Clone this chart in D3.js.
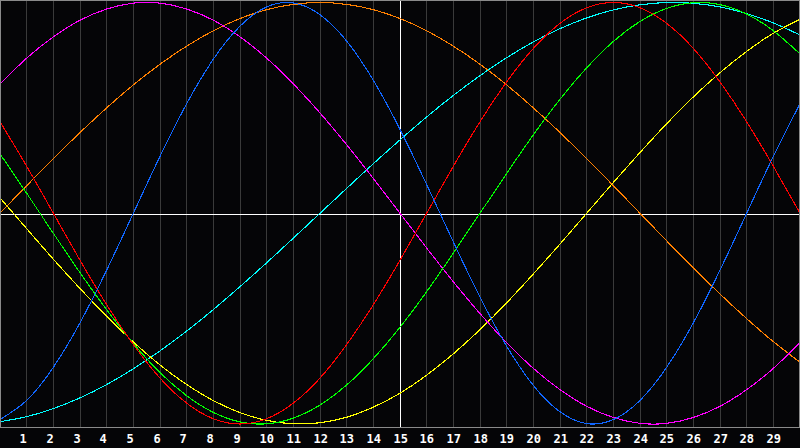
<!DOCTYPE html>
<html>
<head>
<meta charset="utf-8">
<script src="https://cdn.jsdelivr.net/npm/d3@7"></script>
<style>
  html, body { margin: 0; padding: 0; background: #050507; overflow: hidden; }
  svg { display: block; }
</style>
</head>
<body>
<svg id="chart" width="800" height="448"></svg>
<script>
// Days shown along the bottom axis (0..30 are sampled, 1..29 labelled)
const days = d3.range(0, 31);
const dayLabels = ["1","2","3","4","5","6","7","8","9","10","11","12","13","14","15",
  "16","17","18","19","20","21","22","23","24","25","26","27","28","29"];

// Series values (range -1 .. 1), one value per day 0..30
const redValues = [0.434,0.223,0,-0.223,-0.434,-0.623,-0.782,-0.901,-0.975,-1,-0.975,-0.901,-0.782,-0.623,-0.434,-0.223,0,0.223,0.434,0.623,0.782,0.901,0.975,1,0.975,0.901,0.782,0.623,0.434,0.223,0];
const greenValues = [0.282,0.095,-0.095,-0.282,-0.458,-0.618,-0.756,-0.866,-0.945,-0.990,-0.999,-0.972,-0.910,-0.815,-0.690,-0.541,-0.372,-0.189,0,0.189,0.372,0.541,0.690,0.815,0.910,0.972,0.999,0.990,0.945,0.866,0.756];
const blueValues = [-0.979,-0.888,-0.731,-0.520,-0.270,0,0.270,0.520,0.731,0.888,0.979,0.998,0.942,0.817,0.631,0.398,0.136,-0.136,-0.398,-0.631,-0.817,-0.942,-0.998,-0.979,-0.888,-0.731,-0.520,-0.270,0,0.270,0.520];
const yellowValues = [0.073,-0.073,-0.218,-0.357,-0.489,-0.611,-0.720,-0.813,-0.889,-0.946,-0.983,-0.999,-0.994,-0.968,-0.920,-0.854,-0.768,-0.667,-0.552,-0.425,-0.288,-0.146,0,0.146,0.288,0.425,0.552,0.667,0.768,0.854,0.920];
const cyanValues = [-0.989,-0.965,-0.927,-0.876,-0.813,-0.738,-0.653,-0.559,-0.457,-0.348,-0.235,-0.118,0,0.118,0.235,0.348,0.457,0.559,0.653,0.738,0.813,0.876,0.927,0.965,0.989,1.000,0.996,0.979,0.947,0.903,0.846];
const magentaValues = [0.614,0.736,0.837,0.916,0.969,0.997,0.997,0.969,0.916,0.837,0.736,0.614,0.476,0.325,0.165,0,-0.165,-0.325,-0.476,-0.614,-0.736,-0.837,-0.916,-0.969,-0.997,-0.997,-0.969,-0.916,-0.837,-0.736,-0.614];
const orangeValues = [0,0.131,0.259,0.383,0.5,0.609,0.707,0.793,0.866,0.924,0.966,0.991,1,0.991,0.966,0.924,0.866,0.793,0.707,0.609,0.5,0.383,0.259,0.131,0,-0.131,-0.259,-0.383,-0.5,-0.609,-0.707];

const seriesNames = ["orange","cyan","yellow","magenta","green","red","blue"];
const seriesValues = [orangeValues, cyanValues, yellowValues, magentaValues, greenValues, redValues, blueValues];
const seriesColors = ["#ff8000","#00ffff","#ffff00","#ff00ff","#00ff00","#ff0000","#1066ff"];

const W = 800, H = 448, plotBottom = 428;
const svg = d3.select("#chart");

const x = d3.scaleLinear().domain([0, 30]).range([0, W]);
const y = d3.scaleLinear().domain([-1, 1]).range([424, 2.5]);

// background
svg.append("rect").attr("x", 0).attr("y", 0).attr("width", W).attr("height", H).attr("fill", "#050507");

// vertical day grid
const gridDays = d3.range(1, 30);
svg.append("g").selectAll("line").data(gridDays).join("line")
  .attr("x1", d => Math.floor(x(d)) + 0.5).attr("x2", d => Math.floor(x(d)) + 0.5)
  .attr("y1", 0).attr("y2", plotBottom)
  .attr("stroke", d => d === 15 ? "#ffffff" : "#3a3a3a")
  .attr("stroke-width", 1)
  .attr("shape-rendering", "crispEdges");

// horizontal zero line
const y0 = Math.ceil(y(0)) + 0.5;
svg.append("line").attr("x1", 0).attr("x2", W).attr("y1", y0).attr("y2", y0)
  .attr("stroke", "#ffffff").attr("stroke-width", 1).attr("shape-rendering", "crispEdges");

// curves
const line = d3.line().x((d, i) => x(days[i])).y(d => y(d)).curve(d3.curveNatural);
svg.append("clipPath").attr("id", "plotclip").append("rect")
  .attr("x", 0).attr("y", 0).attr("width", W).attr("height", plotBottom);
const curves = svg.append("g").attr("clip-path", "url(#plotclip)");
seriesValues.forEach((vals, k) => {
  curves.append("path").datum(vals)
    .attr("d", line)
    .attr("fill", "none")
    .attr("stroke", seriesColors[k])
    .attr("stroke-width", 1.1)
    .attr("shape-rendering", "crispEdges");
});

// border
svg.append("rect").attr("x", 0.5).attr("y", 0.5).attr("width", W - 1).attr("height", plotBottom - 1)
  .attr("fill", "none").attr("stroke", "#8a8a8a").attr("stroke-width", 1).attr("shape-rendering", "crispEdges");

// day labels
svg.append("g").selectAll("text").data(dayLabels).join("text")
  .attr("x", (d, i) => Math.floor(x(i + 1)) - 6.5)
  .attr("y", 443)
  .attr("fill", "#ffffff")
  .attr("font-family", "'DejaVu Sans Mono', monospace")
  .attr("font-weight", "bold")
  .attr("font-size", "12px")
  .attr("text-anchor", "start")
  .text(d => d);
</script>
</body>
</html>
